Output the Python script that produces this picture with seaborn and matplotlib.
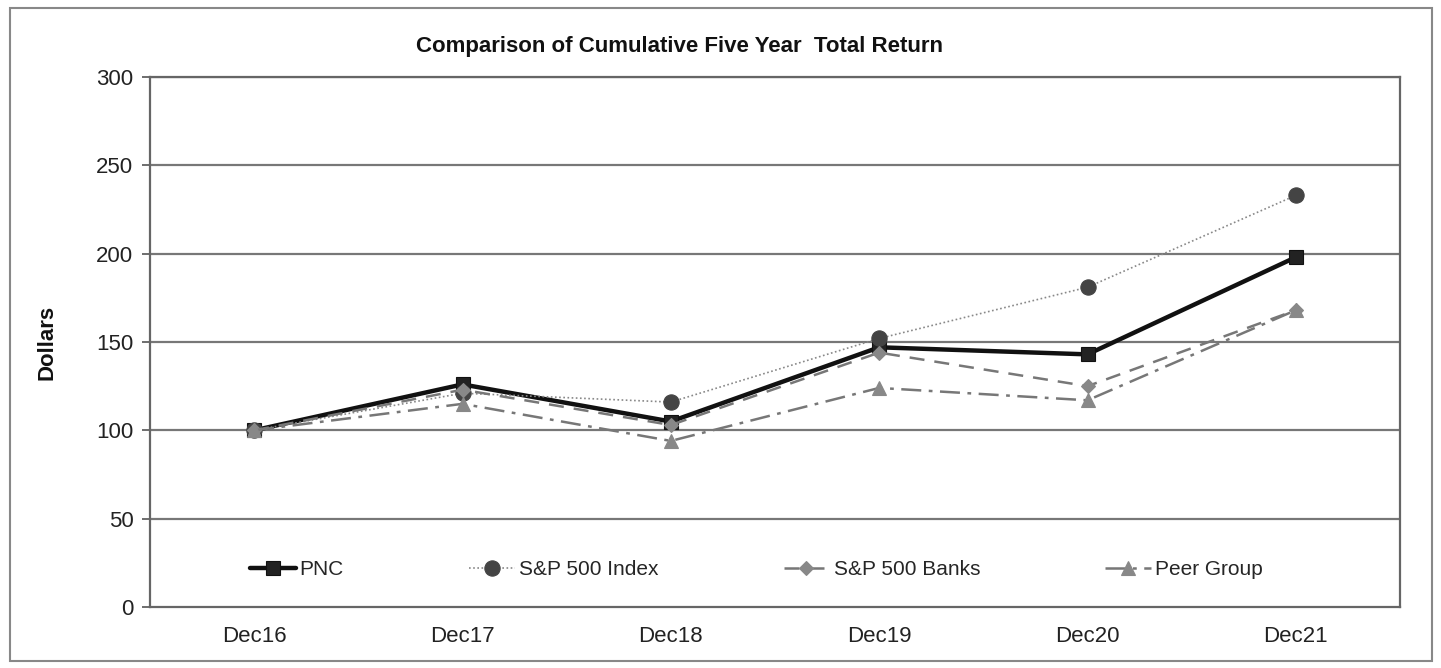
import matplotlib
matplotlib.use("Agg")
import matplotlib.pyplot as plt
import seaborn as sns
import pandas as pd
from matplotlib.patches import Rectangle

years = ["Dec16", "Dec17", "Dec18", "Dec19", "Dec20", "Dec21"]
pnc = [100, 126, 105, 147, 143, 198]
sp500 = [100, 121, 116, 152, 181, 233]
sp_banks = [100, 123, 103, 144, 125, 168]
peer = [100, 115, 94, 124, 117, 168]
series_names = ["PNC", "S&P 500 Index", "S&P 500 Banks", "Peer Group"]
yticks = [0, 50, 100, 150, 200, 250, 300]

sns.set_theme(style="white")
plt.rcParams['font.family'] = ['Liberation Sans', 'DejaVu Sans']

fig = plt.figure(figsize=(14.41, 6.68), dpi=100)
ax = fig.add_axes([150/1441, 1-607/668, 1250/1441, 530/668])

styles = [
    dict(color="#111111", lw=3.2, ls="-", marker="s", ms=10, mfc="#222222", mec="#111111"),
    dict(color="#888888", lw=1.2, ls=(0, (1, 1.5)), marker="o", ms=11, mfc="#444444", mec="#444444"),
    dict(color="#777777", lw=1.8, ls=(0, (6, 4)), marker="D", ms=7, mfc="#888888", mec="#888888"),
    dict(color="#777777", lw=1.8, ls=(0, (8, 3, 1.5, 3)), marker="^", ms=10, mfc="#888888", mec="#888888"),
]

for name, vals, st in zip(series_names, [pnc, sp500, sp_banks, peer], styles):
    df = pd.DataFrame({"Year": years, "Value": vals})
    sns.lineplot(data=df, x="Year", y="Value", ax=ax, label=name,
                 color=st["color"], linewidth=st["lw"], linestyle=st["ls"],
                 marker=st["marker"], markersize=st["ms"],
                 markerfacecolor=st["mfc"], markeredgecolor=st["mec"],
                 markeredgewidth=0.8, sort=False)

ax.set_xlim(-0.5, 5.5)
ax.set_ylim(0, 300)
ax.set_yticks(yticks)
ax.set_yticklabels([str(t) for t in yticks], fontsize=16, color="#222222")
ax.set_xticks(range(len(years)))
ax.set_xticklabels(years, fontsize=16, color="#222222")
ax.set_xticks([i - 0.5 for i in range(len(years) + 1)], minor=True)
ax.tick_params(axis="x", which="major", length=0, pad=14)
ax.tick_params(axis="x", which="minor", length=6, width=1.2, color="#555555", direction="out")
ax.tick_params(axis="y", which="major", length=6, width=1.2, color="#555555", direction="out", left=True, pad=6)
ax.set_xlabel("")
ax.set_ylabel("Dollars", fontsize=16, fontweight="bold", labelpad=28, color="#111111")

for y in yticks[1:]:
    ax.axhline(y, color="#777777", lw=1.6, zorder=0)
for sp in ax.spines.values():
    sp.set_color("#666666")
    sp.set_linewidth(1.6)

ax.set_title("Comparison of Cumulative Five Year  Total Return", fontsize=16,
             fontweight="bold", color="#111111", pad=18, x=0.424)

leg = ax.legend(loc="center", bbox_to_anchor=(0.485, 0.07), ncol=4, frameon=False,
                fontsize=15, handlelength=2.2, handletextpad=0.2, columnspacing=6.0)

fig.patches.append(Rectangle((10/1441, 1-661/668), 1422/1441, 653/668,
                             transform=fig.transFigure, fill=False,
                             edgecolor="#888888", lw=1.5))

fig.savefig("out.png", dpi=100)
